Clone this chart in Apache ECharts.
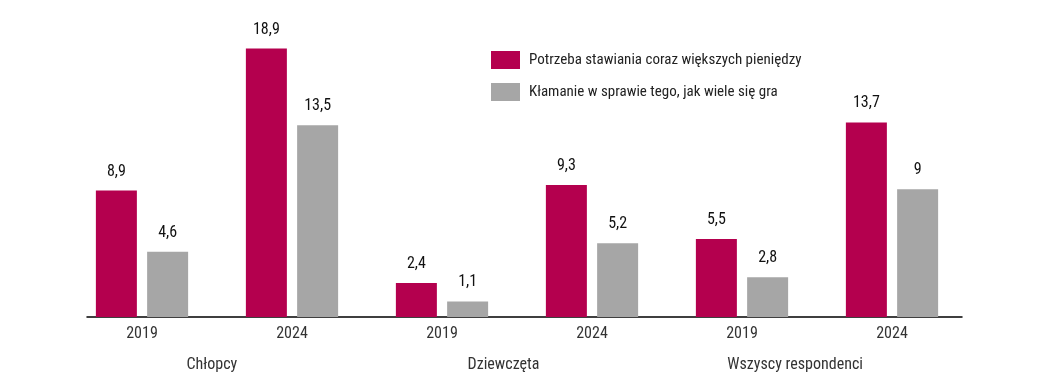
<!DOCTYPE html>
<html><head><meta charset="utf-8">
<script src="https://cdn.jsdelivr.net/npm/echarts@6/dist/echarts.min.js"></script>
<style>html,body{margin:0;padding:0;background:#fff}#c{width:1043px;height:391px}</style>
</head><body><div id="c"></div>
<script>
const categories = ['2019','2024','2019','2024','2019','2024'];
const groups = ['Chłopcy','Dziewczęta','Wszyscy respondenci'];
const seriesNames = ['Potrzeba stawiania coraz większych pieniędzy','Kłamanie w sprawie tego, jak wiele się gra'];
const valuesA = [8.9, 18.9, 2.4, 9.3, 5.5, 13.7];
const valuesB = [4.6, 13.5, 1.1, 5.2, 2.8, 9];
const FONT = '"Roboto Condensed","Liberation Sans Narrow",sans-serif';
const chart = echarts.init(document.getElementById('c'));
const lbl = {show:true, position:'top', distance:11, color:'#111', fontSize:16, fontFamily:FONT,
  formatter: p => String(p.value).replace('.', ',')};
chart.setOption({
  animation:false,
  legend:{orient:'vertical', left:486, top:46, itemWidth:29, itemHeight:18, itemGap:14,
    icon:'rect', textStyle:{fontFamily:FONT, fontSize:15, color:'#222', padding:[0,0,0,4]}, data:seriesNames},
  grid:[{left:67,right:76,top:33,bottom:74},{left:87,right:81,top:33,bottom:74}],
  xAxis:[
    {type:'category', gridIndex:0, data:categories, axisLine:{show:false}, axisTick:{show:false},
     axisLabel:{margin:9, fontFamily:FONT, fontSize:16, color:'#333'}},
    {type:'category', gridIndex:1, data:groups, axisLine:{show:true, lineStyle:{color:'#000', width:1.5}}, axisTick:{show:false},
     axisLabel:{margin:40, fontFamily:FONT, fontSize:16, color:'#333', padding:[0,42,0,0]}}
  ],
  yAxis:[
    {type:'value', gridIndex:0, min:0, max:20, show:false},
    {type:'value', gridIndex:1, min:0, max:20, show:false}
  ],
  series:[
    {name:seriesNames[0], type:'bar', data:valuesA, barWidth:41, barGap:'25%', itemStyle:{color:'#B4004E'}, label:lbl},
    {name:seriesNames[1], type:'bar', data:valuesB, barWidth:41, barGap:'25%', itemStyle:{color:'#A6A6A6'}, label:lbl}
  ]
});
</script></body></html>
